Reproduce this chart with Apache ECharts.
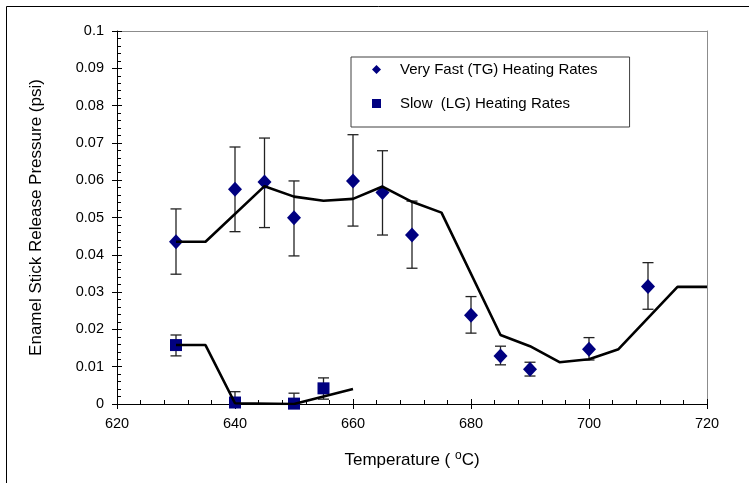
<!DOCTYPE html>
<html>
<head>
<meta charset="utf-8">
<script src="https://cdn.jsdelivr.net/npm/echarts@6/dist/echarts.min.js"></script>
<style>html,body{margin:0;padding:0;background:#fff}#c{width:749px;height:483px}</style>
</head>
<body>
<div id="c"></div>
<script>
// ---- data ----
const tempFast      = [630, 640, 645, 650, 660, 665, 670, 680, 685, 690, 700, 710];
const pressFast     = [0.0435, 0.0576, 0.0595, 0.0499, 0.0598, 0.0567, 0.0453, 0.0238, 0.0129, 0.0093, 0.0147, 0.0315];
const errHighFast   = [0.0523, 0.0689, 0.0713, 0.0598, 0.0722, 0.0679, 0.0544, 0.0288, 0.0155, 0.0112, 0.0178, 0.0379];
const errLowFast    = [0.0348, 0.0462, 0.0473, 0.0397, 0.0477, 0.0453, 0.0364, 0.0190, 0.0105, 0.0075, 0.0118, 0.0254];
const trendTempFast = [630, 635, 645, 650, 655, 660, 665, 670, 675, 685, 690, 695, 700, 705, 715, 720];
const trendFast     = [0.0435, 0.0435, 0.0584, 0.0556, 0.0545, 0.0550, 0.0583, 0.0542, 0.0513, 0.0185, 0.0155, 0.0112, 0.0120, 0.0147, 0.0314, 0.0314];

const tempSlow      = [630, 640, 650, 655];
const pressSlow     = [0.0158, 0.0004, 0.0001, 0.0042];
const errHighSlow   = [0.0185, 0.0033, 0.0029, 0.0070];
const errLowSlow    = [0.0129, 0.0000, 0.0000, 0.0013];
const trendTempSlow = [630, 635, 640, 650, 660];
const trendSlow     = [0.0158, 0.0158, 0.0002, 0.0000, 0.0040];

const xTickLabels = ['620', '640', '660', '680', '700', '720'];
const yTickLabels = ['0', '0.01', '0.02', '0.03', '0.04', '0.05', '0.06', '0.07', '0.08', '0.09', '0.1'];
const seriesNames = ['Very Fast (TG) Heating Rates', 'Slow  (LG) Heating Rates'];

// ---- chart ----
const FONT = 'Liberation Sans, Arial, sans-serif';
const NAVY = '#000080';
const chart = echarts.init(document.getElementById('c'), null, {renderer: 'canvas'});

function errRender(params, api) {
  const x = api.value(0), lo = api.value(1), hi = api.value(2);
  const pLo = api.coord([x, lo]), pHi = api.coord([x, hi]);
  const w = 5.5;
  const style = {stroke: '#222', lineWidth: 1.3};
  return {type: 'group', children: [
    {type: 'line', shape: {x1: pLo[0], y1: pLo[1], x2: pHi[0], y2: pHi[1]}, style: style},
    {type: 'line', shape: {x1: pHi[0] - w, y1: pHi[1], x2: pHi[0] + w, y2: pHi[1]}, style: style},
    {type: 'line', shape: {x1: pLo[0] - w, y1: pLo[1], x2: pLo[0] + w, y2: pLo[1]}, style: style}
  ]};
}

const xBase = {type: 'value', min: 620, max: 720, interval: 20, splitLine: {show: false}};
const yBase = {type: 'value', min: 0, max: 0.1, interval: 0.01, splitLine: {show: false}};

const option = {
  backgroundColor: '#fff',
  animation: false,
  grid: {left: 117, right: 42, top: 31, bottom: 79, containLabel: false},
  legend: {
    left: 351, top: 57,
    orient: 'vertical',
    padding: [5, 32, 16, 21],
    itemGap: 19,
    itemWidth: 9, itemHeight: 9,
    borderColor: '#404040', borderWidth: 1, backgroundColor: '#fff',
    formatter: name => '{g| }{t|' + name + '}',
    textStyle: {fontFamily: FONT, fontSize: 15, color: '#000',
                rich: {g: {width: 14, fontSize: 15, fontFamily: FONT},
                       t: {fontSize: 15, fontFamily: FONT, color: '#000'}}},
    data: [
      {name: seriesNames[0], icon: 'diamond'},
      {name: seriesNames[1], icon: 'rect'}
    ]
  },
  xAxis: [
    Object.assign({}, xBase, {
      position: 'bottom',
      axisLine: {show: true, onZero: false, lineStyle: {color: '#000', width: 1}},
      axisTick: {show: true, inside: false, length: 5, lineStyle: {color: '#000'}},
      axisLabel: {show: true, margin: 12, fontFamily: FONT, fontSize: 14.5, color: '#000',
                  formatter: (v, i) => xTickLabels[i]},
      name: 'Temperature ( {sup|o}C)', nameLocation: 'middle', nameGap: 46,
      nameTextStyle: {fontFamily: FONT, fontSize: 17, color: '#000',
                      rich: {sup: {fontFamily: FONT, fontSize: 12, color: '#000', padding: [0, 0, 8, 0]}}}
    }),
    Object.assign({}, xBase, {
      position: 'bottom',
      axisLine: {show: false, onZero: false},
      axisTick: {show: true, inside: true, length: 5, lineStyle: {color: '#000'}},
      minorTick: {show: true, splitNumber: 5, length: 4, lineStyle: {color: '#000'}},
      axisLabel: {show: false}
    }),
    Object.assign({}, xBase, {
      position: 'top',
      axisLine: {show: true, onZero: false, lineStyle: {color: '#8c8c8c', width: 1}},
      axisTick: {show: false}, axisLabel: {show: false}
    })
  ],
  yAxis: [
    Object.assign({}, yBase, {
      position: 'left',
      axisLine: {show: true, onZero: false, lineStyle: {color: '#000', width: 1}},
      axisTick: {show: true, inside: false, length: 5, lineStyle: {color: '#000'}},
      axisLabel: {show: true, margin: 13, fontFamily: FONT, fontSize: 14.5, color: '#000',
                  formatter: (v, i) => yTickLabels[i]},
      name: 'Enamel Stick Release Pressure (psi)', nameLocation: 'middle', nameGap: 72,
      nameTextStyle: {fontFamily: FONT, fontSize: 17, color: '#000'}
    }),
    Object.assign({}, yBase, {
      position: 'left',
      axisLine: {show: false, onZero: false},
      axisTick: {show: true, inside: true, length: 5, lineStyle: {color: '#000'}},
      minorTick: {show: true, splitNumber: 5, length: 4, lineStyle: {color: '#000'}},
      axisLabel: {show: false}
    }),
    Object.assign({}, yBase, {
      position: 'right',
      axisLine: {show: true, onZero: false, lineStyle: {color: '#8c8c8c', width: 1}},
      axisTick: {show: false}, axisLabel: {show: false}
    })
  ],
  graphic: [
    {type: 'rect', silent: true, shape: {x: 6.5, y: 6.5, width: 900, height: 700},
     style: {fill: null, stroke: '#000', lineWidth: 1}}
  ],
  series: [
    {type: 'custom', name: 'errFast', xAxisIndex: 0, yAxisIndex: 0, renderItem: errRender,
     encode: {x: 0, y: [1, 2]}, z: 2,
     data: tempFast.map((t, i) => [t, errLowFast[i], errHighFast[i]])},
    {type: 'custom', name: 'errSlow', xAxisIndex: 0, yAxisIndex: 0, renderItem: errRender,
     encode: {x: 0, y: [1, 2]}, z: 2,
     data: tempSlow.map((t, i) => [t, errLowSlow[i], errHighSlow[i]])},
    {type: 'scatter', name: seriesNames[0], xAxisIndex: 0, yAxisIndex: 0, symbol: 'diamond',
     symbolSize: [14, 15], itemStyle: {color: NAVY, opacity: 1}, z: 3,
     data: tempFast.map((t, i) => [t, pressFast[i]])},
    {type: 'scatter', name: seriesNames[1], xAxisIndex: 0, yAxisIndex: 0, symbol: 'rect',
     symbolSize: 12, itemStyle: {color: NAVY, opacity: 1}, z: 3,
     data: tempSlow.map((t, i) => [t, pressSlow[i]])},
    {type: 'line', name: 'trendFast', xAxisIndex: 0, yAxisIndex: 0, symbol: 'none',
     lineStyle: {color: '#000', width: 2.6}, z: 4,
     data: trendTempFast.map((t, i) => [t, trendFast[i]])},
    {type: 'line', name: 'trendSlow', xAxisIndex: 0, yAxisIndex: 0, symbol: 'none',
     lineStyle: {color: '#000', width: 2.6}, z: 4,
     data: trendTempSlow.map((t, i) => [t, trendSlow[i]])}
  ]
};
chart.setOption(option);
</script>
</body>
</html>
